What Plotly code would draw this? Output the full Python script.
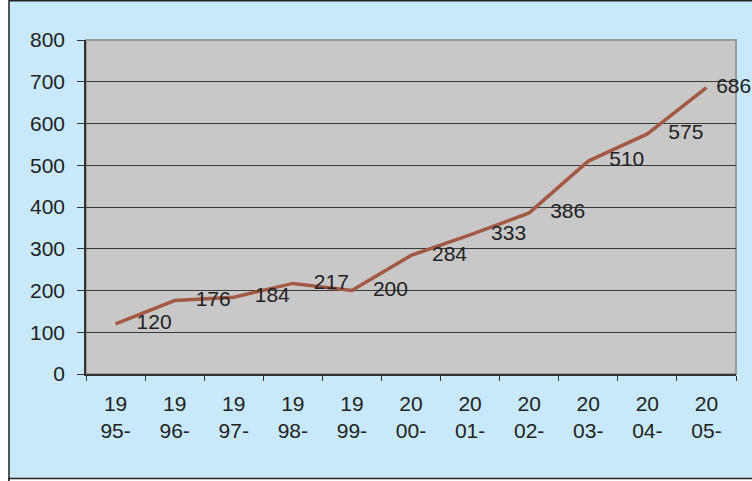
import plotly.graph_objects as go

# years shown as two-line tick labels, values from the data labels
years = ["1995", "1996", "1997", "1998", "1999", "2000",
         "2001", "2002", "2003", "2004", "2005"]
tick_labels = ["19<br>95-", "19<br>96-", "19<br>97-", "19<br>98-", "19<br>99-",
               "20<br>00-", "20<br>01-", "20<br>02-", "20<br>03-", "20<br>04-",
               "20<br>05-"]
values = [120, 176, 184, 217, 200, 284, 333, 386, 510, 575, 686]
y_ticks = [0, 100, 200, 300, 400, 500, 600, 700, 800]

W, H = 752, 481
L, R, T, B = 86, 16, 40, 107
PW, PH = W - L - R, H - T - B
FONT = "Liberation Sans, Arial"


def px_x(p):
    return (p - L) / PW


def px_y(p):
    return (H - B - p) / PH


# invisible markers push the labels off the line; the last one sits closer
label_pad = [32] * (len(values) - 1) + [14]

fig = go.Figure()
fig.add_trace(go.Scatter(
    x=years,
    y=values,
    mode="lines+markers+text",
    line=dict(color="#a35a44", width=3.5),
    marker=dict(size=label_pad, color="rgba(0,0,0,0)", opacity=0,
                line=dict(width=0, color="rgba(0,0,0,0)")),
    text=[str(v) for v in values],
    textposition="middle right",
    textfont=dict(family=FONT, size=21, color="#222222"),
    cliponaxis=False,
    hoverinfo="x+y",
))

fig.update_layout(
    width=W,
    height=H,
    autosize=False,
    margin=dict(l=L, r=R, t=T, b=B),
    paper_bgcolor="#c7e9f9",
    plot_bgcolor="#c8c8c8",
    showlegend=False,
    font=dict(family=FONT, size=21, color="#222222"),
    xaxis=dict(
        type="category",
        range=[-0.5, len(years) - 0.5],
        tickmode="array",
        tickvals=years,
        ticktext=tick_labels,
        tickson="boundaries",
        ticks="outside",
        ticklen=5,
        tickcolor="#333333",
        showline=True,
        linecolor="#333333",
        linewidth=1.5,
        showgrid=False,
        ticklabelstandoff=10,
    ),
    yaxis=dict(
        range=[0, 800],
        tickvals=y_ticks,
        ticks="outside",
        ticklen=7,
        tickcolor="#333333",
        showline=True,
        linecolor="#333333",
        linewidth=1.5,
        showgrid=True,
        gridcolor="#3a3a3a",
        gridwidth=1,
        zeroline=False,
        ticklabelstandoff=8,
    ),
    shapes=[
        # grey border on top/right of plot area
        dict(type="rect", xref="paper", yref="paper", x0=0, x1=1, y0=0, y1=1,
             line=dict(color="#9a9a9a", width=2), layer="below"),
        # white strip + frame line on the left
        dict(type="rect", xref="paper", yref="paper",
             x0=px_x(-20), x1=px_x(9), y0=px_y(H + 20), y1=px_y(-20),
             fillcolor="white", line=dict(color="#222222", width=1.5),
             layer="above"),
        # white strip + frame line at the bottom
        dict(type="rect", xref="paper", yref="paper",
             x0=px_x(9), x1=px_x(W + 20), y0=px_y(H + 20), y1=px_y(478.5),
             fillcolor="white", line=dict(color="#222222", width=1.5),
             layer="above"),
        # frame line on top
        dict(type="line", xref="paper", yref="paper",
             x0=px_x(9), x1=px_x(W + 20), y0=px_y(0.75), y1=px_y(0.75),
             line=dict(color="#222222", width=1.5), layer="above"),
    ],
)

# page body margin would shift the chart by 8px
fig.write_html("out.html", config={"displayModeBar": False},
               post_script="document.body.style.margin='0';")
